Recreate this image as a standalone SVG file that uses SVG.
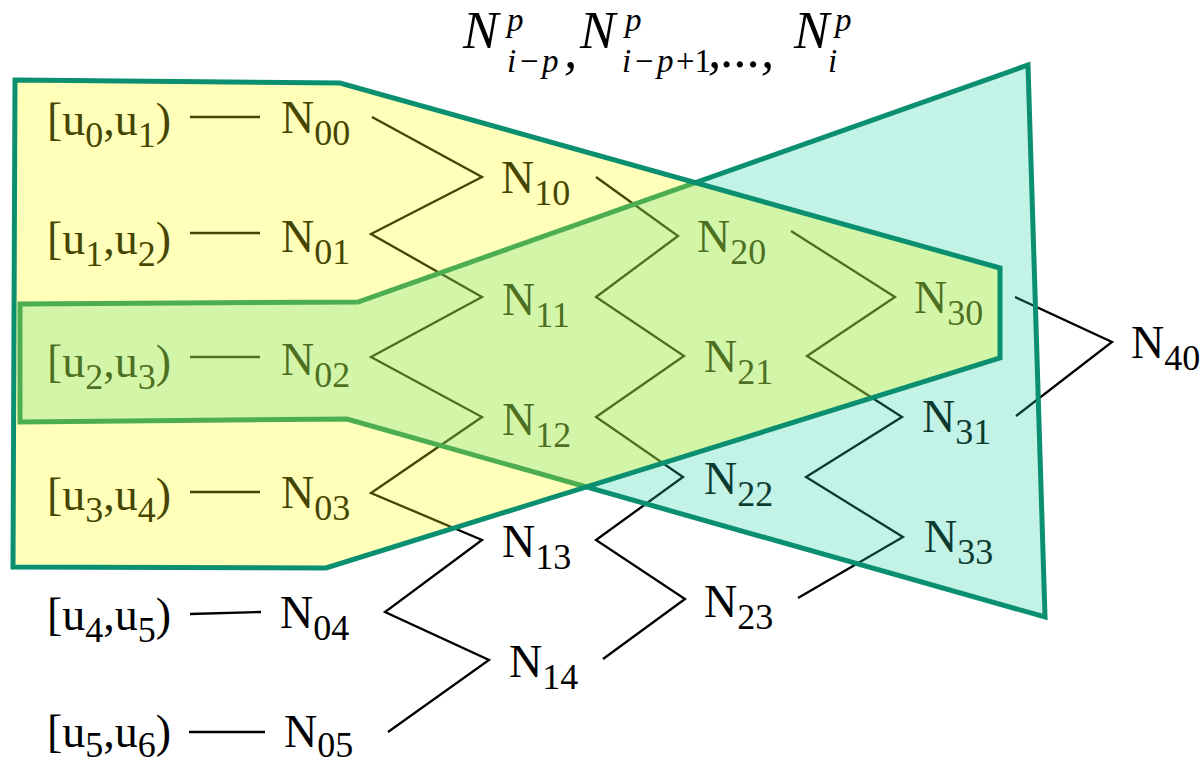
<svg xmlns="http://www.w3.org/2000/svg" width="1200" height="765" viewBox="0 0 1200 765">
<style>
text{font-family:"Liberation Serif","Times New Roman",serif;fill:#000}
.m{font-size:46px}
.s{font-size:36px}
.t{font-size:53px;font-style:italic}
.ts{font-size:33px;font-style:italic}
.up{font-style:normal}
.c{fill:none;stroke:#000;stroke-width:2.3;stroke-linejoin:miter}
.reg{stroke:#0a9070;stroke-width:5;stroke-linejoin:miter}
</style>
<rect width="1200" height="765" fill="#fff"/>
<g id="title">
<text class="t" x="463" y="48">N</text>
<text class="ts" x="507" y="31">p</text>
<text class="ts" x="507" y="72">i</text>
<text class="ts up" x="520" y="72">−</text>
<text class="ts" x="542" y="72">p</text>
<text class="t" x="564" y="67">,</text>
<text class="t" x="580" y="48">N</text>
<text class="ts" x="625" y="31">p</text>
<text class="ts" x="622" y="72">i</text>
<text class="ts up" x="635" y="72">−</text>
<text class="ts" x="657" y="72">p</text>
<text class="ts up" x="676" y="72">+1</text>
<text class="t" x="708" y="67">,...,</text>
<text class="t" x="794" y="48">N</text>
<text class="ts" x="835" y="31">p</text>
<text class="ts" x="828" y="72">i</text>
</g>
<g id="connectors">
<path class="c" d="M190 117H260M190 233H260M190 357H260M190 492H260M190 614L261 612M189 732H265"/>
<polyline class="c" points="372,117 482,177 371,234 482,297 371,357 482,417 371,493 482,540 385,612 489,660 388,732"/>
<polyline class="c" points="596,177 678,236 596,297 684,356 596,417 683,477 596,540 685,599 603,659"/>
<polyline class="c" points="791,231 895,297 807,356 902,417 806,477 903,537 798,598"/>
<polyline class="c" points="1015,297 1112,342 1016,416"/>
</g>
<g id="interval-0"><text class="m" x="47" y="135">[u<tspan class="s" dy="12">0</tspan><tspan dy="-12">,u</tspan><tspan class="s" dy="12">1</tspan><tspan dy="-12">)</tspan></text></g>
<g id="interval-1"><text class="m" x="47" y="254">[u<tspan class="s" dy="12">1</tspan><tspan dy="-12">,u</tspan><tspan class="s" dy="12">2</tspan><tspan dy="-12">)</tspan></text></g>
<g id="interval-2"><text class="m" x="47" y="377">[u<tspan class="s" dy="12">2</tspan><tspan dy="-12">,u</tspan><tspan class="s" dy="12">3</tspan><tspan dy="-12">)</tspan></text></g>
<g id="interval-3"><text class="m" x="47" y="510">[u<tspan class="s" dy="12">3</tspan><tspan dy="-12">,u</tspan><tspan class="s" dy="12">4</tspan><tspan dy="-12">)</tspan></text></g>
<g id="interval-4"><text class="m" x="47" y="630">[u<tspan class="s" dy="12">4</tspan><tspan dy="-12">,u</tspan><tspan class="s" dy="12">5</tspan><tspan dy="-12">)</tspan></text></g>
<g id="interval-5"><text class="m" x="47" y="747">[u<tspan class="s" dy="10">5</tspan><tspan dy="-10">,u</tspan><tspan class="s" dy="10">6</tspan><tspan dy="-10">)</tspan></text></g>
<g id="N00"><text class="m" x="281" y="133">N<tspan class="s" dy="12">00</tspan></text></g>
<g id="N01"><text class="m" x="281" y="252">N<tspan class="s" dy="12">01</tspan></text></g>
<g id="N02"><text class="m" x="281" y="375">N<tspan class="s" dy="12">02</tspan></text></g>
<g id="N03"><text class="m" x="281" y="508">N<tspan class="s" dy="12">03</tspan></text></g>
<g id="N04"><text class="m" x="280" y="628">N<tspan class="s" dy="12">04</tspan></text></g>
<g id="N05"><text class="m" x="284" y="747">N<tspan class="s" dy="10">05</tspan></text></g>
<g id="N10"><text class="m" x="501" y="193">N<tspan class="s" dy="12">10</tspan></text></g>
<g id="N11"><text class="m" x="502" y="315">N<tspan class="s" dy="12">11</tspan></text></g>
<g id="N12"><text class="m" x="502" y="435">N<tspan class="s" dy="12">12</tspan></text></g>
<g id="N13"><text class="m" x="502" y="557">N<tspan class="s" dy="12">13</tspan></text></g>
<g id="N14"><text class="m" x="509" y="677">N<tspan class="s" dy="12">14</tspan></text></g>
<g id="N20"><text class="m" x="697" y="252">N<tspan class="s" dy="12">20</tspan></text></g>
<g id="N21"><text class="m" x="704" y="372">N<tspan class="s" dy="12">21</tspan></text></g>
<g id="N22"><text class="m" x="704" y="494">N<tspan class="s" dy="12">22</tspan></text></g>
<g id="N23"><text class="m" x="704" y="617">N<tspan class="s" dy="12">23</tspan></text></g>
<g id="N30"><text class="m" x="914" y="313">N<tspan class="s" dy="12">30</tspan></text></g>
<g id="N31"><text class="m" x="922" y="432">N<tspan class="s" dy="12">31</tspan></text></g>
<g id="N33"><text class="m" x="924" y="552">N<tspan class="s" dy="12">33</tspan></text></g>
<g id="N40"><text class="m" x="1131" y="358">N<tspan class="s" dy="12">40</tspan></text></g>
<g id="region-teal">
<polygon class="reg" fill="rgba(40,210,170,0.28)" points="20,304 358,302 1028,65 1045,617 347,419 20,422"/>
</g>
<g id="region-yellow">
<polygon class="reg" fill="rgba(255,255,0,0.27)" points="15,80 340,83 1000,268 1000,358 326,568 13,567"/>
</g>
</svg>
